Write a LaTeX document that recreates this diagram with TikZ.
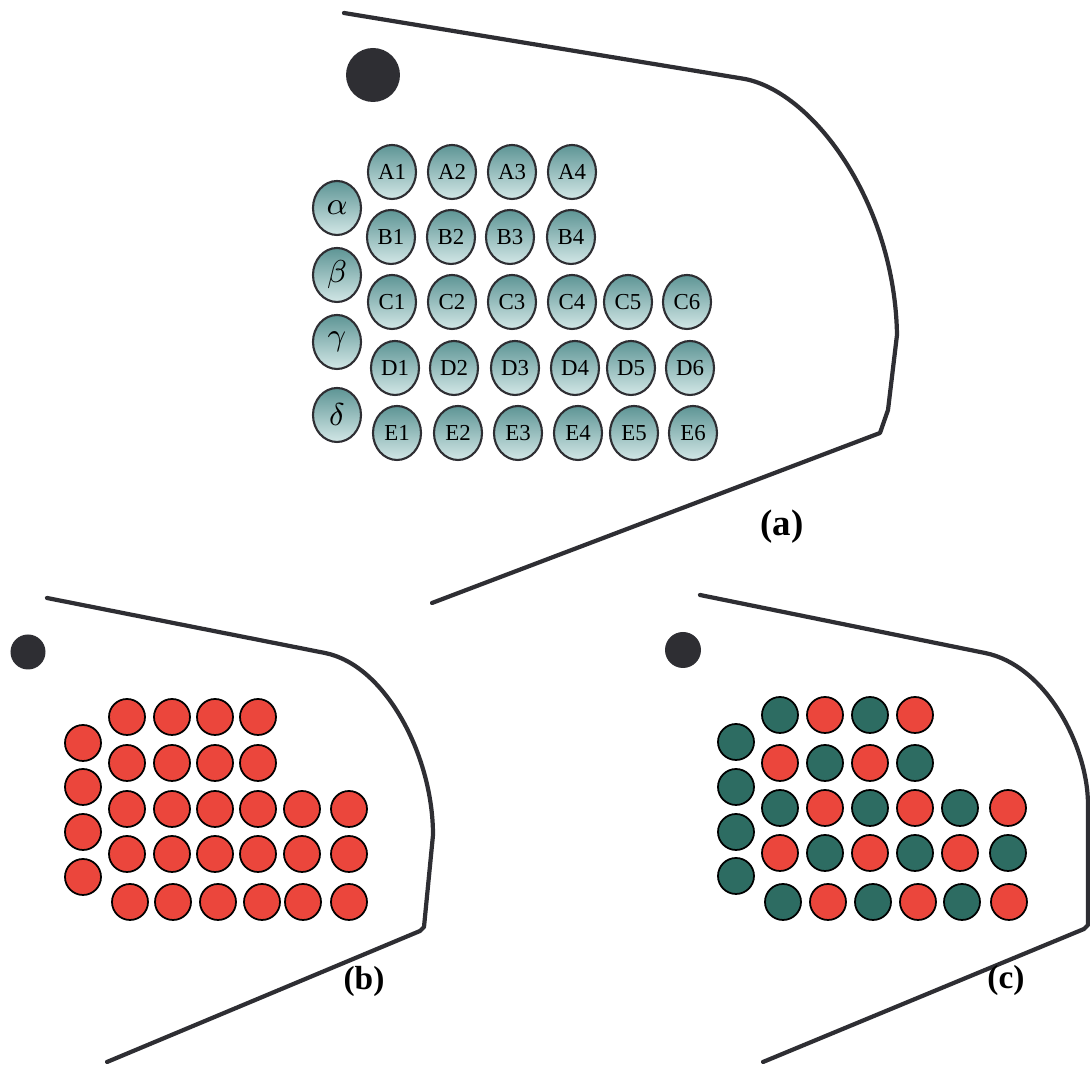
\documentclass[tikz,border=0pt]{standalone}
\usepackage{fontspec}
\setmainfont{Liberation Serif}
\usepackage{tikz}
\usetikzlibrary{shapes.geometric}
\definecolor{tealtop}{HTML}{5E9595}
\definecolor{tealbot}{HTML}{D2E7E6}
\definecolor{elred}{HTML}{EB463C}
\definecolor{elgreen}{HTML}{2D6C62}
\definecolor{linedark}{HTML}{2E2E33}
\tikzset{
  elec/.style={ellipse, draw=linedark, line width=.6pt, top color=tealtop, bottom color=tealbot,
    minimum width=.48cm, minimum height=.54cm, inner sep=0pt, font=\fontsize{6.5}{7}\selectfont},
  greek/.style={elec, font=\fontsize{9.5}{10}\selectfont},
  small/.style={circle, draw=black, line width=.5pt, minimum size=.36cm, inner sep=0pt},
  elr/.style={small, fill=elred},
  elg/.style={small, fill=elgreen},
  nasion/.style={circle, fill=linedark, inner sep=0pt},
  outl/.style={line width=1.2pt, draw=linedark, line join=round, line cap=round},
  lbl/.style={font=\fontsize{10.5}{11}\selectfont\bfseries},
  lbls/.style={font=\fontsize{9.5}{10}\selectfont\bfseries},
}
\begin{document}
\begin{tikzpicture}
    \useasboundingbox (0,0) rectangle (10.9,10.65);

    % (a) labelled montage
    \draw[outl] (3.44,10.52) -- (7.45,9.86) .. controls (8.15,9.72) and (8.95,8.6) .. (8.97,7.3)
      -- (8.88,6.55) -- (8.80,6.32) -- (4.32,4.62);
    \node[nasion, minimum size=.54cm] (na) at (3.73,9.90) {};

    \node[greek] (al) at (3.37,8.57) {$\alpha$};
    \node[greek] (be) at (3.37,7.90) {$\beta$};
    \node[greek] (ga) at (3.37,7.23) {$\gamma$};
    \node[greek] (de) at (3.37,6.50) {$\delta$};

    \foreach \c/\x in {1/3.92,2/4.52,3/5.12,4/5.72}
      \node[elec] (A\c) at (\x,8.93) {A\c};
    \foreach \c/\x in {1/3.91,2/4.51,3/5.10,4/5.71}
      \node[elec] (B\c) at (\x,8.28) {B\c};
    \foreach \c/\x in {1/3.92,2/4.52,3/5.12,4/5.72,5/6.28,6/6.87}
      \node[elec] (C\c) at (\x,7.63) {C\c};
    \foreach \c/\x in {1/3.95,2/4.54,3/5.15,4/5.75,5/6.31,6/6.90}
      \node[elec] (D\c) at (\x,6.97) {D\c};
    \foreach \c/\x in {1/3.97,2/4.58,3/5.18,4/5.78,5/6.34,6/6.93}
      \node[elec] (E\c) at (\x,6.32) {E\c};

    \node[lbl] (la) at (7.82,5.38) {(a)};

    % (b) all red
    \draw[outl] (0.47,4.67) -- (3.25,4.12) .. controls (3.85,4.0) and (4.33,3.1) .. (4.33,2.3)
      -- (4.24,1.38) -- (4.20,1.34) -- (1.07,0.03);
    \node[nasion, minimum size=.35cm] (nb) at (0.28,4.13) {};

    \foreach \r/\y in {1/3.22,2/2.78,3/2.33,4/1.88}
      \node[elr] (bL\r) at (0.83,\y) {};
    \foreach \c/\x in {1/1.27,2/1.72,3/2.15,4/2.58} {
      \node[elr] (bA\c) at (\x,3.48) {};
      \node[elr] (bB\c) at (\x,3.02) {};
    }
    \foreach \c/\x in {1/1.27,2/1.72,3/2.15,4/2.58,5/3.02,6/3.49} {
      \node[elr] (bC\c) at (\x,2.56) {};
      \node[elr] (bD\c) at (\x,2.11) {};
    }
    \foreach \c/\x in {1/1.30,2/1.73,3/2.18,4/2.62,5/3.03,6/3.49}
      \node[elr] (bE\c) at (\x,1.63) {};

    \node[lbls] (lb) at (3.64,0.84) {(b)};

    % (c) alternating
    \draw[outl] (7.00,4.70) -- (9.85,4.12) .. controls (10.45,4.0) and (10.88,3.2) .. (10.88,2.6)
      -- (10.88,1.40) -- (10.84,1.36) -- (7.63,0.03);
    \node[nasion, minimum size=.36cm] (nc) at (6.83,4.15) {};

    \foreach \r/\y in {1/3.23,2/2.78,3/2.33,4/1.89}
      \node[elg] (cL\r) at (7.36,\y) {};

    \node[elg] (cA1) at (7.80,3.50) {};
    \node[elr] (cA2) at (8.25,3.50) {};
    \node[elg] (cA3) at (8.70,3.50) {};
    \node[elr] (cA4) at (9.15,3.50) {};

    \node[elr] (cB1) at (7.80,3.02) {};
    \node[elg] (cB2) at (8.25,3.02) {};
    \node[elr] (cB3) at (8.70,3.02) {};
    \node[elg] (cB4) at (9.15,3.02) {};

    \foreach \c/\x/\s in {1/7.80/elg,2/8.25/elr,3/8.70/elg,4/9.15/elr,5/9.60/elg,6/10.08/elr}
      \node[\s] (cC\c) at (\x,2.57) {};
    \foreach \c/\x/\s in {1/7.80/elr,2/8.25/elg,3/8.70/elr,4/9.15/elg,5/9.60/elr,6/10.08/elg}
      \node[\s] (cD\c) at (\x,2.12) {};
    \foreach \c/\x/\s in {1/7.83/elg,2/8.28/elr,3/8.73/elg,4/9.18/elr,5/9.62/elg,6/10.09/elr}
      \node[\s] (cE\c) at (\x,1.63) {};

    \node[lbls] (lc) at (10.06,0.85) {(c)};
\end{tikzpicture}
\end{document}
